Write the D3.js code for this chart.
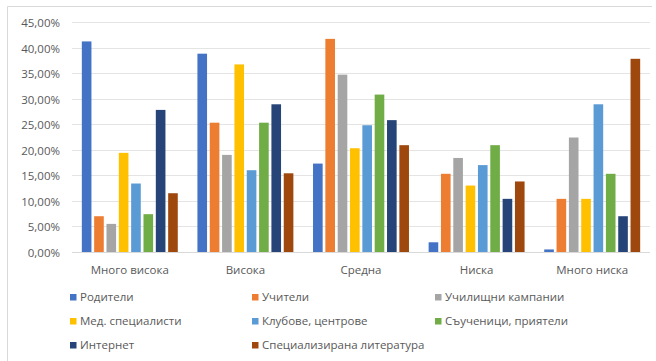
<!DOCTYPE html>
<meta charset="utf-8">
<script src="https://d3js.org/d3.v7.min.js"></script>
<style>
  body { margin: 0; background: #fff; font-family: 'Open Sans', sans-serif; }
</style>
<div id="chart"></div>
<script>
// categories and series
var categories = ["Много висока", "Висока", "Средна", "Ниска", "Много ниска"];
var seriesNames = ["Родители", "Учители", "Училищни кампании", "Мед. специалисти",
                   "Клубове, центрове", "Съученици, приятели", "Интернет", "Специализирана литература"];
var colors = ["#4472C4", "#ED7D31", "#A5A5A5", "#FFC000", "#5B9BD5", "#70AD47", "#264478", "#9E480E"];

// values in percent, one array per series (order follows categories)
var roditeli    = [41.2, 38.8, 17.3, 1.9, 0.5];
var uchiteli    = [7.0, 25.3, 41.7, 15.3, 10.4];
var kampanii    = [5.5, 19.0, 34.7, 18.4, 22.4];
var medSpec     = [19.4, 36.7, 20.3, 13.0, 10.4];
var klubove     = [13.4, 16.0, 24.8, 17.0, 28.9];
var suuchenici  = [7.4, 25.3, 30.8, 20.9, 15.3];
var internet    = [27.8, 28.9, 25.8, 10.4, 7.0];
var literatura  = [11.5, 15.4, 20.9, 13.8, 37.8];
var seriesValues = [roditeli, uchiteli, kampanii, medSpec, klubove, suuchenici, internet, literatura];

var yTicks = [0, 5, 10, 15, 20, 25, 30, 35, 40, 45];

var W = 656, H = 361;
var margin = {top: 22, left: 72, right: 6, bottom: 109};
var width = W - margin.left - margin.right, height = H - margin.top - margin.bottom;

var root = d3.select("#chart").append("svg").attr("width", W).attr("height", H);

// outer frame
root.append("path")
  .attr("d", "M7.5," + H + "V6.5H652")
  .attr("fill", "none").attr("stroke", "#d9d9d9");

var svg = root.append("g").attr("transform", "translate(" + margin.left + "," + margin.top + ")");

var x0 = d3.scaleBand().domain(categories).range([0, width]).paddingInner(0.17).paddingOuter(0.085);
var x1 = d3.scaleBand().domain(seriesNames).range([0, x0.bandwidth()]).paddingInner(0.22);
var y = d3.scaleLinear().domain([0, 45]).range([height, 0]);

// gridlines
svg.selectAll(".grid").data(yTicks).enter().append("line")
  .attr("x1", 0).attr("x2", width)
  .attr("y1", function(d) { return Math.round(y(d)) + 0.5; })
  .attr("y2", function(d) { return Math.round(y(d)) + 0.5; })
  .attr("stroke", "#e4e4e4");

// y labels
svg.selectAll(".ylab").data(yTicks).enter().append("text")
  .attr("x", -12).attr("y", function(d) { return y(d) + 1; })
  .attr("dy", "0.35em").attr("text-anchor", "end")
  .style("font-size", "11.5px").style("fill", "#595959")
  .text(function(d) { return d.toFixed(2).replace(".", ",") + "%"; });

// bars
var groups = svg.selectAll(".cat").data(categories).enter().append("g")
  .attr("transform", function(d) { return "translate(" + x0(d) + ",0)"; });

groups.selectAll("rect")
  .data(function(c, ci) { return seriesNames.map(function(s, si) { return {s: s, si: si, v: seriesValues[si][ci]}; }); })
  .enter().append("rect")
  .attr("x", function(d) { return x1(d.s); })
  .attr("width", x1.bandwidth())
  .attr("y", function(d) { return y(d.v); })
  .attr("height", function(d) { return height - y(d.v); })
  .attr("fill", function(d) { return colors[d.si]; });

// axis line
svg.append("line").attr("x1", 0).attr("x2", width)
  .attr("y1", Math.round(height) + 0.5).attr("y2", Math.round(height) + 0.5)
  .attr("stroke", "#d9d9d9");

// category labels
svg.selectAll(".xlab").data(categories).enter().append("text")
  .attr("x", function(d) { return x0(d) + x0.bandwidth() / 2; })
  .attr("y", height + 22)
  .attr("text-anchor", "middle")
  .style("font-size", "11.5px").style("fill", "#595959")
  .text(function(d) { return d; });

// legend
var legX = [70, 252, 435], legY = [297, 321, 345];
var leg = root.selectAll(".leg").data(seriesNames).enter().append("g")
  .attr("transform", function(d, i) { return "translate(" + legX[i % 3] + "," + legY[Math.floor(i / 3)] + ")"; });
leg.append("rect").attr("x", 0).attr("y", -3).attr("width", 6.5).attr("height", 6.5)
  .attr("fill", function(d, i) { return colors[i]; });
leg.append("text").attr("x", 10).attr("dy", "0.35em")
  .style("font-size", "11.5px").style("fill", "#595959")
  .text(function(d) { return d; });
</script>
